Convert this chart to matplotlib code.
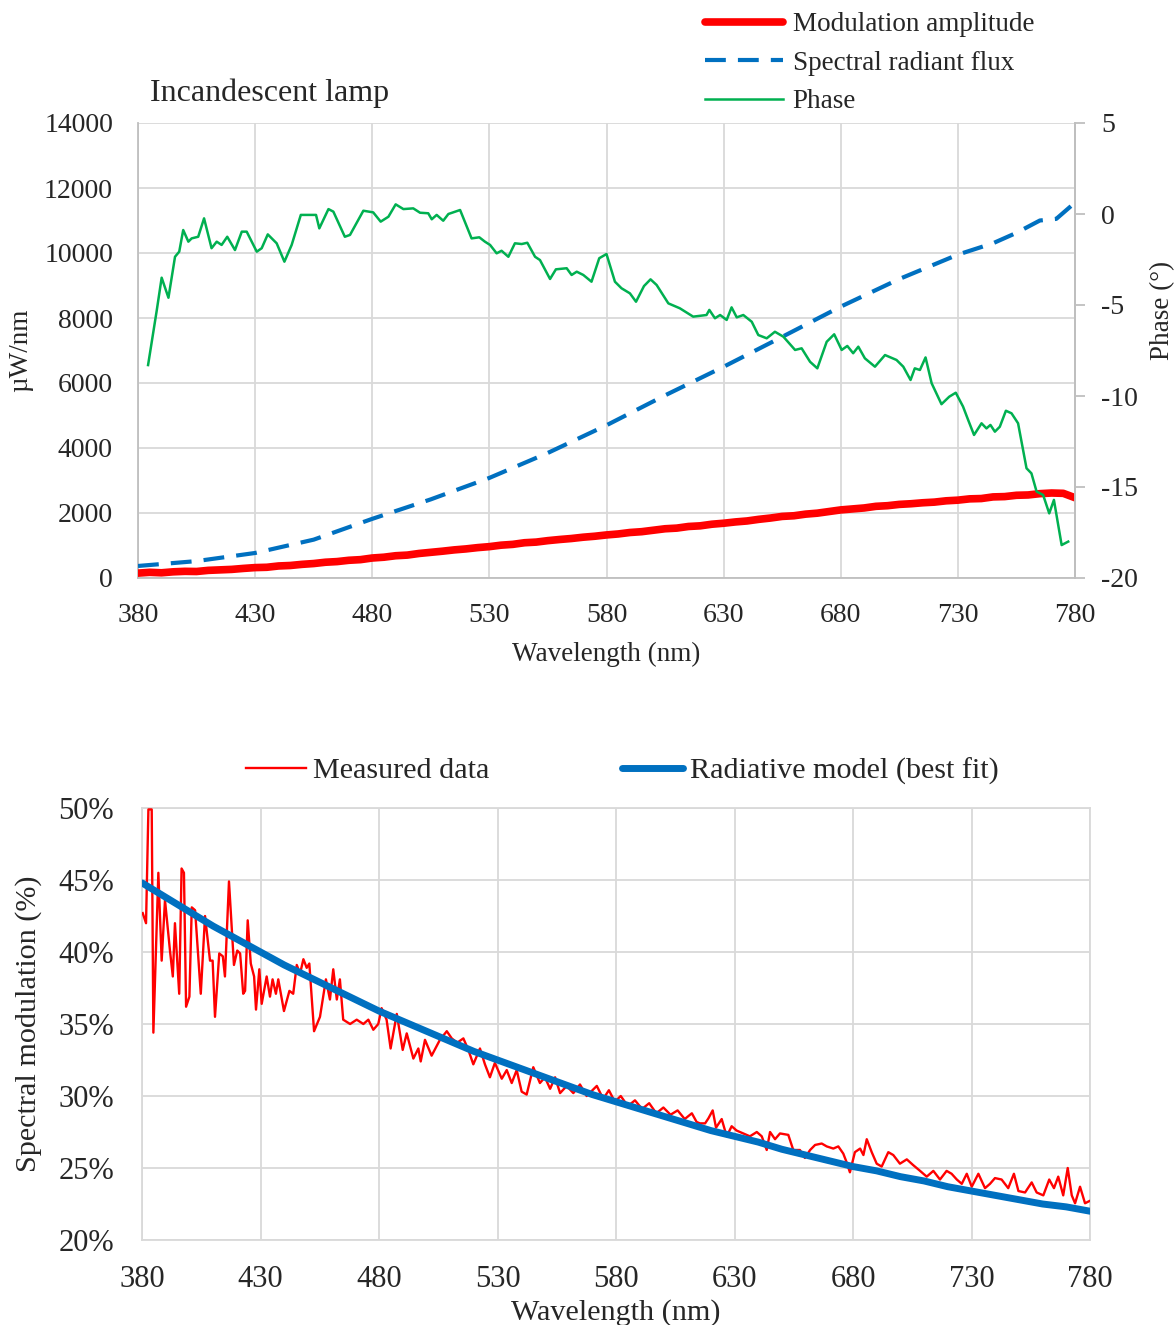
import numpy as np
import matplotlib
matplotlib.use("Agg")
import matplotlib.pyplot as plt
from matplotlib.ticker import FuncFormatter

plt.rcParams['font.family'] = ['Liberation Serif', 'DejaVu Serif']
plt.rcParams['axes.unicode_minus'] = False

# ---------------- data: top panel ----------------
mod_wl = np.arange(380, 781, 5)
mod_amp = [150, 175, 160, 190, 205, 200, 235, 250, 265, 295,
           320, 330, 370, 385, 420, 445, 485, 505, 545, 565,
           615, 640, 685, 705, 755, 790, 825, 865, 895, 935,
           965, 1010, 1035, 1085, 1105, 1150, 1185, 1215, 1255, 1285,
           1325, 1355, 1400, 1425, 1470, 1515, 1535, 1585, 1605, 1655,
           1685, 1725, 1755, 1805, 1845, 1895, 1915, 1965, 1995, 2045,
           2095, 2125, 2155, 2205, 2225, 2265, 2285, 2315, 2335, 2375,
           2395, 2435, 2445, 2495, 2505, 2545, 2555, 2595, 2615, 2605,
           2470]

flux_wl = [380, 405, 430, 455, 480, 505, 530, 555, 580, 605, 630, 655, 680,
           705, 730, 745, 755, 765, 772, 780]
flux = [370, 520, 770, 1180, 1820, 2420, 3080, 3850, 4700, 5620, 6500, 7420,
        8350, 9200, 9950, 10300, 10620, 11000, 11050, 11550]

phase_wl = [384.3, 388.0, 390.1, 393.0, 395.8, 397.6, 399.3, 401.5, 402.9, 405.7,
            408.2, 411.4, 413.6, 415.7, 418.1, 421.4, 424.3, 426.4, 430.7, 432.8,
            435.4, 439.2, 442.5, 445.6, 449.5, 456.0, 457.4, 461.3, 463.4, 468.3,
            470.5, 476.2, 480.4, 483.6, 486.9, 490.0, 493.3, 497.5, 500.4, 503.9,
            505.4, 507.5, 510.3, 512.5, 517.5, 522.4, 525.7, 528.1, 530.3, 533.1,
            535.2, 538.1, 540.9, 543.8, 546.2, 549.5, 551.6, 555.9, 558.4, 563.0,
            565.1, 567.3, 570.1, 573.6, 576.9, 580.0, 583.6, 586.4, 590.0, 592.6,
            596.0, 598.8, 601.4, 606.4, 611.3, 617.0, 622.7, 623.9, 626.3, 628.5,
            631.3, 633.4, 635.6, 638.4, 642.0, 644.8, 648.4, 651.9, 655.5, 660.5,
            663.3, 666.9, 670.0, 674.0, 677.2, 680.4, 682.8, 685.3, 687.5, 690.3,
            694.6, 698.9, 703.8, 706.7, 709.8, 711.6, 713.8, 716.2, 718.8, 723.0,
            726.3, 729.1, 732.2, 734.4, 736.9, 740.1, 742.2, 743.9, 745.8, 747.9,
            750.5, 752.9, 755.7, 759.3, 761.4, 763.6, 766.4, 769.0, 771.0, 774.3,
            777.1]
phase = [-8.3, -5.3, -3.5, -4.6, -2.35, -2.07, -0.88, -1.52, -1.34, -1.25,
         -0.24, -1.88, -1.52, -1.70, -1.25, -1.98, -0.97, -0.97, -2.07, -1.88,
         -1.12, -1.61, -2.62, -1.70, -0.05, -0.05, -0.79, 0.27, 0.13, -1.25,
         -1.15, 0.18, 0.09, -0.42, -0.15, 0.53, 0.27, 0.31, 0.07, 0.04,
         -0.29, -0.05, -0.37, 0.0, 0.22, -1.34, -1.28, -1.52, -1.70, -2.16,
         -2.02, -2.35, -1.61, -1.65, -1.58, -2.35, -2.53, -3.57, -3.04, -2.98,
         -3.35, -3.17, -3.35, -3.72, -2.43, -2.20, -3.72, -4.08, -4.36, -4.82,
         -3.96, -3.59, -3.90, -4.91, -5.18, -5.64, -5.55, -5.27, -5.73, -5.55,
         -5.82, -5.13, -5.68, -5.55, -5.92, -6.65, -6.83, -6.47, -6.74, -7.47,
         -7.38, -8.12, -8.48, -7.02, -6.61, -7.47, -7.25, -7.65, -7.29, -7.93,
         -8.39, -7.75, -8.02, -8.39, -9.12, -8.48, -8.57, -7.88, -9.30, -10.45,
         -10.04, -9.82, -10.58, -11.32, -12.14, -11.50, -11.78, -11.59, -11.96, -11.69,
         -10.81, -10.95, -11.50, -13.97, -14.25, -15.25, -15.44, -16.45, -15.71, -18.19,
         -18.0]

# ---------------- data: bottom panel ----------------
meas_wl = [380.3, 381.7, 382.7, 384.1, 384.8, 386.9, 388.3, 389.7, 391.8, 393.0,
           393.9, 395.7, 396.7, 397.7, 398.6, 400.0, 401.0, 402.4, 404.8, 406.6,
           408.7, 409.8, 410.8, 412.6, 414.1, 415.0, 416.7, 418.8, 420.2, 421.4,
           422.7, 423.5, 424.6, 425.9, 427.3, 428.1, 429.5, 430.5, 432.6, 434.0,
           435.1, 436.5, 437.5, 439.9, 442.2, 443.8, 445.3, 446.7, 448.1, 449.5,
           450.6, 452.6, 455.1, 457.6, 459.3, 460.7, 462.2, 463.5, 464.9, 467.8,
           470.6, 473.4, 475.5, 477.6, 479.7, 481.1, 483.2, 484.9, 487.5, 490.0,
           491.7, 494.5, 496.6, 497.6, 499.4, 502.2, 505.7, 508.6, 510.7, 513.0,
           515.6, 517.7, 519.8, 522.6, 524.7, 526.8, 528.9, 531.8, 533.9, 536.0,
           538.1, 540.2, 542.3, 545.1, 547.9, 550.0, 552.2, 554.3, 556.4, 559.2,
           562.0, 564.8, 567.6, 571.9, 574.6, 577.0, 579.5, 582.0, 585.0, 588.0,
           591.0, 594.0, 597.0, 600.0, 603.0, 606.0, 609.0, 612.0, 614.0, 615.4,
           617.6, 619.0, 620.8, 622.2, 624.6, 626.7, 628.8, 630.9, 633.7, 636.5,
           639.4, 641.5, 643.6, 645.0, 647.1, 649.2, 652.7, 654.8, 657.6, 659.7,
           661.9, 664.0, 666.8, 668.9, 671.7, 673.8, 675.9, 677.3, 678.7, 680.8,
           683.0, 684.4, 685.8, 687.9, 690.0, 692.1, 694.9, 697.0, 699.8, 702.7,
           705.4, 708.3, 711.1, 713.9, 716.7, 719.5, 721.6, 723.8, 725.9, 728.0,
           730.1, 732.9, 735.7, 737.8, 739.9, 742.7, 745.5, 747.9, 749.8, 752.6,
           755.4, 757.5, 760.3, 762.8, 764.8, 766.6, 768.7, 770.6, 772.3, 773.7,
           775.8, 777.9, 779.7]
meas = [42.7, 42.0, 49.9, 49.9, 34.4, 45.5, 39.4, 43.6, 40.1, 38.3,
        42.0, 37.1, 45.8, 45.5, 36.2, 36.9, 43.1, 42.9, 37.1, 42.5,
        39.4, 39.4, 35.5, 39.9, 39.7, 38.3, 44.9, 39.1, 40.1, 39.9,
        37.1, 37.3, 42.2, 39.2, 38.3, 36.0, 38.8, 36.4, 38.3, 36.9,
        38.1, 37.1, 38.1, 35.9, 37.3, 37.1, 39.1, 38.5, 39.5, 38.9,
        39.2, 34.5, 35.5, 38.1, 36.7, 38.8, 36.7, 38.1, 35.3, 35.0,
        35.3, 35.0, 35.3, 34.6, 35.0, 36.1, 35.3, 33.3, 35.7, 33.2,
        34.35, 32.6, 33.3, 32.4, 33.9, 32.8, 33.9, 34.5, 34.0, 33.7,
        34.0, 33.2, 32.2, 33.3, 32.2, 31.3, 32.3, 31.2, 31.8, 30.9,
        31.8, 30.3, 30.1, 32.0, 30.9, 31.3, 30.5, 31.3, 30.2, 30.7,
        30.2, 30.8, 30.0, 30.7, 29.8, 30.4, 29.6, 30.0, 29.3, 29.7,
        29.1, 29.5, 28.8, 29.2, 28.7, 29.0, 28.4, 28.8, 28.2, 28.1,
        28.1, 28.45, 29.0, 27.8, 28.4, 27.2, 27.9, 27.6, 27.4, 27.2,
        27.5, 27.2, 26.25, 27.5, 27.0, 27.4, 27.3, 26.25, 26.25, 25.7,
        26.25, 26.6, 26.7, 26.5, 26.35, 26.5, 26.0, 25.4, 24.7, 26.1,
        26.35, 25.9, 27.0, 26.1, 25.3, 25.1, 26.1, 25.9, 25.3, 25.6,
        25.2, 24.8, 24.4, 24.8, 24.2, 24.8, 24.6, 24.2, 23.9, 24.6,
        23.7, 24.6, 23.6, 23.9, 24.3, 24.2, 23.6, 24.6, 23.4, 23.3,
        24.0, 23.3, 23.1, 24.2, 23.6, 24.4, 23.1, 25.0, 23.1, 22.55,
        23.7, 22.55, 22.7]

model_wl = np.arange(380, 781, 10)
model = [44.8, 43.8, 42.8, 41.8, 40.9, 40.0, 39.1, 38.3, 37.5, 36.7,
         35.9, 35.2, 34.5, 33.8, 33.1, 32.5, 31.9, 31.3, 30.7, 30.1,
         29.6, 29.1, 28.6, 28.1, 27.6, 27.2, 26.8, 26.3, 25.9, 25.5,
         25.1, 24.8, 24.4, 24.1, 23.7, 23.4, 23.1, 22.8, 22.5, 22.3,
         22.0]

x_ticks = [380, 430, 480, 530, 580, 630, 680, 730, 780]
flux_ticks = [0, 2000, 4000, 6000, 8000, 10000, 12000, 14000]
phase_ticks = [-20, -15, -10, -5, 0, 5]
pct_ticks = [20, 25, 30, 35, 40, 45, 50]

RED = '#FF0000'
BLUE = '#0070C0'
GREEN = '#00B050'
GRID = '#D9D9D9'
SPINE = '#BFBFBF'
TXT = '#262626'

W, H = 1175, 1325
fig = plt.figure(figsize=(W / 100, H / 100), dpi=100)

# ---------------- top panel ----------------
ax1 = fig.add_axes([138 / W, 1 - 578 / H, (1075 - 138) / W, (578 - 123) / H])
ax1.set_xlim(380, 780)
ax1.set_ylim(0, 14000)
ax1.set_xticks(x_ticks)
ax1.set_yticks(flux_ticks)
ax1.grid(True, color=GRID, lw=1.3)
ax1.set_axisbelow(True)
ax1.spines['top'].set_visible(False)
for s in ['left', 'bottom', 'right']:
    ax1.spines[s].set_color(SPINE)
    ax1.spines[s].set_linewidth(1.3)
ax1.tick_params(axis='both', length=0, labelsize=20, colors=TXT)
ax1.tick_params(axis='x', pad=18)
ax1.tick_params(axis='y', pad=18)
ax1.set_xlabel('Wavelength (nm)', fontsize=19.5, color=TXT, labelpad=10)
ax1.set_ylabel('µW/nm', fontsize=19.5, color=TXT, labelpad=8)

l_mod, = ax1.plot(mod_wl, mod_amp, color=RED, lw=5.5, solid_capstyle='round',
                  label='Modulation amplitude', zorder=3)
l_flux, = ax1.plot(flux_wl, flux, color=BLUE, lw=3, ls=(0, (5.0, 2.9)),
                   label='Spectral radiant flux', zorder=3)

ax2 = ax1.twinx()
ax2.set_ylim(-20, 5)
ax2.set_yticks(phase_ticks)
ax2.spines['right'].set_color(SPINE)
ax2.spines['right'].set_linewidth(1.3)
for s in ['top', 'left', 'bottom']:
    ax2.spines[s].set_visible(False)
ax2.tick_params(axis='y', length=7, width=1.3, color=SPINE, labelsize=20,
                labelcolor=TXT, pad=12)
ax2.set_ylabel('Phase (°)', fontsize=19.5, color=TXT, rotation=90)
ax2.yaxis.set_label_coords((1150 - 138) / (1075 - 138), (578 - 310) / (578 - 123))
l_ph, = ax2.plot(phase_wl, phase, color=GREEN, lw=1.8, label='Phase', zorder=3)

ax1.text(150 / W, 1 - 93 / H, 'Incandescent lamp', transform=fig.transFigure,
         fontsize=23, color=TXT, ha='left', va='center')

fig.legend(handles=[l_mod, l_flux, l_ph], loc='upper left',
           bbox_to_anchor=(681 / W, 1 + 12 / H), frameon=False, fontsize=19.5,
           handlelength=2.85, handletextpad=0.37, labelspacing=0.5,
           labelcolor=TXT)

# ---------------- bottom panel ----------------
ax3 = fig.add_axes([142 / W, 1 - 1240 / H, (1090 - 142) / W, (1240 - 808) / H])
ax3.set_xlim(380, 780)
ax3.set_ylim(20, 50)
ax3.set_xticks(x_ticks)
ax3.set_yticks(pct_ticks)
ax3.yaxis.set_major_formatter(FuncFormatter(lambda v, p: f'{v:.0f}%'))
ax3.grid(True, color=GRID, lw=1.3)
ax3.set_axisbelow(True)
for s in ax3.spines.values():
    s.set_color(GRID)
    s.set_linewidth(1.3)
ax3.tick_params(axis='both', length=0, labelsize=22, colors=TXT)
ax3.tick_params(axis='x', pad=18)
ax3.tick_params(axis='y', pad=20)
ax3.set_xlabel('Wavelength (nm)', fontsize=21.7, color=TXT, labelpad=4)
ax3.set_ylabel('Spectral modulation (%)', fontsize=21.7, color=TXT, labelpad=12)

l_meas, = ax3.plot(meas_wl, meas, color=RED, lw=1.7, label='Measured data',
                   zorder=3)
l_model, = ax3.plot(model_wl, model, color=BLUE, lw=5, label='Radiative model (best fit)',
                    zorder=4, solid_capstyle='round')

fig.legend(handles=[l_meas, l_model], loc='center left',
           bbox_to_anchor=(219 / W, 1 - 771 / H), frameon=False, fontsize=21.7,
           ncol=2, handlelength=2.0, handletextpad=0.23, columnspacing=4.4,
           labelcolor=TXT)

fig.savefig('out.png', dpi=100)
